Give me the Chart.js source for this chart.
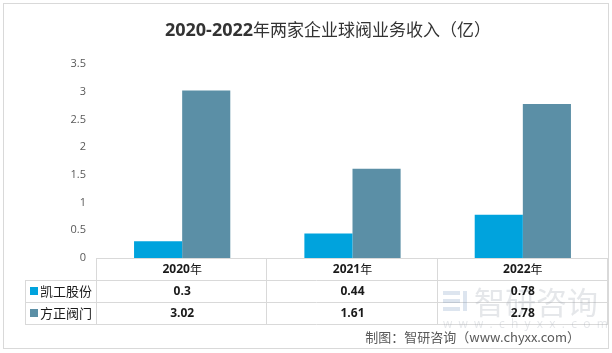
<!DOCTYPE html>
<html><head><meta charset="utf-8">
<script src="https://cdn.jsdelivr.net/npm/chart.js@4"></script>
<style>html,body{margin:0;padding:0;background:#fff;}#wrap{width:612px;height:353px;}</style>
</head><body><div id="wrap"><canvas id="c" width="612" height="353"></canvas></div>
<script>
const categories = ['2020年', '2021年', '2022年'];
const seriesNames = ['凯工股份', '方正阀门'];
const kaigong = [0.3, 0.44, 0.78];
const fangzheng = [3.02, 1.61, 2.78];
const yTicks = [0, 0.5, 1, 1.5, 2, 2.5, 3, 3.5];
const colors = ['#00A3DD', '#5B8FA6'];
const titleBold = '2020-2022';
const titleRest = '年两家企业球阀业务收入（亿）';
const sourceText = '制图：智研咨询（www.chyxx.com）';

const CJK = '"Noto Sans CJK SC", sans-serif';
const LAT = '"Open Sans", "Noto Sans", sans-serif';

const extras = {
  id: 'extras',
  beforeDraw(chart) {
    const ctx = chart.ctx;
    ctx.save();
    ctx.fillStyle = '#fff';
    ctx.fillRect(0, 0, chart.width, chart.height);
    ctx.strokeStyle = '#d9d9d9';
    ctx.lineWidth = 1;
    ctx.strokeRect(3.5, 3.5, 605, 345);
    ctx.restore();
  },
  afterDraw(chart) {
    const ctx = chart.ctx;
    const area = chart.chartArea;
    ctx.save();
    // title
    ctx.textBaseline = 'middle';
    ctx.fillStyle = '#333';
    ctx.font = 'bold 18px ' + LAT;
    const w1 = ctx.measureText(titleBold).width;
    ctx.font = '17px ' + CJK;
    const w2 = ctx.measureText(titleRest).width;
    let tx = 328 - (w1 + w2) / 2;
    ctx.font = 'bold 18px ' + LAT;
    ctx.textAlign = 'left';
    ctx.fillText(titleBold, tx, 31);
    ctx.font = '17px ' + CJK;
    ctx.fillText(titleRest, tx + w1, 30);

    // table
    const top = area.bottom;
    const rowH = 22;
    const left = area.left, right = area.right;
    const legL = 25;
    const n = categories.length;
    const colW = (right - left) / n;
    ctx.strokeStyle = '#d9d9d9';
    ctx.lineWidth = 1;
    ctx.beginPath();
    ctx.moveTo(left, top + 0.5); ctx.lineTo(right, top + 0.5);
    for (let r = 1; r <= 3; r++) {
      const yy = Math.round(top + r * rowH) + 0.5;
      ctx.moveTo(legL, yy); ctx.lineTo(right, yy);
    }
    for (let i = 0; i <= n; i++) {
      const xx = Math.round(left + i * colW) - 0.5;
      ctx.moveTo(xx, top); ctx.lineTo(xx, top + 3 * rowH);
    }
    ctx.moveTo(legL + 0.5, top + rowH); ctx.lineTo(legL + 0.5, top + 3 * rowH);
    ctx.stroke();

    // watermark
    ctx.fillStyle = 'rgba(150,160,170,0.25)';
    ctx.font = '31px ' + CJK;
    ctx.textAlign = 'left';
    ctx.fillText('智研咨询', 474, 302);
    ctx.font = '12px ' + LAT;
    ctx.fillText('w  w  w  .  c  h  y  x  x  .  c  o  m', 443, 325);
    ctx.fillStyle = 'rgba(120,150,190,0.25)';
    ctx.fillRect(443, 291, 17, 4);
    ctx.fillRect(443, 299, 17, 4);
    ctx.fillRect(443, 307, 17, 4);
    ctx.fillRect(463, 291, 4, 20);

    // header and values
    ctx.fillStyle = '#1a1a1a';
    for (let i = 0; i < n; i++) {
      const cx = left + colW * (i + 0.5);
      ctx.font = 'bold 12px ' + LAT;
      const num = categories[i].replace('年', '');
      const wn = ctx.measureText(num).width;
      ctx.font = '12px ' + CJK;
      const wy = ctx.measureText('年').width;
      ctx.textAlign = 'left';
      ctx.font = 'bold 12px ' + LAT;
      ctx.fillText(num, cx - (wn + wy) / 2, top + rowH / 2 + 1);
      ctx.font = '12px ' + CJK;
      ctx.fillText('年', cx - (wn + wy) / 2 + wn, top + rowH / 2);
      ctx.textAlign = 'center';
      ctx.font = 'bold 12px ' + LAT;
      ctx.fillText(String(kaigong[i]), cx, top + rowH * 1.5 + 1);
      ctx.fillText(String(fangzheng[i]), cx, top + rowH * 2.5 + 1);
    }
    // legend cells
    ctx.textAlign = 'left';
    for (let s = 0; s < 2; s++) {
      const cy = top + rowH * (1.5 + s);
      ctx.fillStyle = colors[s];
      ctx.fillRect(30, cy - 4, 8, 8);
      ctx.fillStyle = '#1a1a1a';
      ctx.font = '13px ' + CJK;
      ctx.fillText(seriesNames[s], 40, cy);
    }

    // source
    ctx.fillStyle = '#595959';
    ctx.font = '13px ' + CJK;
    ctx.textAlign = 'right';
    ctx.fillText(sourceText, 580, 337);
    ctx.restore();
  }
};

new Chart(document.getElementById('c'), {
  type: 'bar',
  data: {
    labels: categories,
    datasets: [
      { label: seriesNames[0], data: kaigong, backgroundColor: colors[0] },
      { label: seriesNames[1], data: fangzheng, backgroundColor: colors[1] }
    ]
  },
  options: {
    responsive: false,
    animation: false,
    devicePixelRatio: 1,
    layout: { padding: { left: 0, right: 4, top: 64, bottom: 95 } },
    datasets: { bar: { categoryPercentage: 0.565, barPercentage: 1 } },
    plugins: { legend: { display: false }, tooltip: { enabled: false }, title: { display: false } },
    scales: {
      x: { display: false },
      y: {
        min: 0, max: 3.5,
        afterFit(scale) { scale.width = 97; },
        afterBuildTicks(scale) { scale.ticks = yTicks.map(v => ({ value: v })); },
        grid: { display: false },
        border: { display: false },
        ticks: { color: '#595959', font: { size: 11, family: LAT }, padding: 3,
          callback: (v) => String(v) }
      }
    }
  },
  plugins: [extras]
});
</script></body></html>
